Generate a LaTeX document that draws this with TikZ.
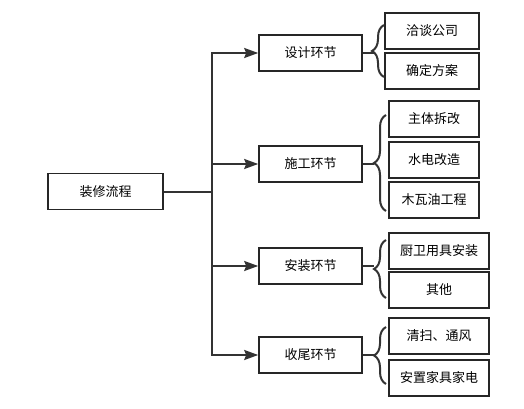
\documentclass[tikz,border=0pt]{standalone}
\usepackage{fontspec}
\setmainfont{Noto Sans CJK SC}
\usetikzlibrary{arrows.meta,decorations.pathreplacing}

\begin{document}
\begin{tikzpicture}[x=1pt,y=-1pt,
  box/.style={draw=black!85,line width=1.6pt,minimum height=36pt,inner sep=0pt,font=\fontsize{13}{15}\selectfont},
  link/.style={draw=black!80,line width=2pt},
  arr/.style={link,-{Stealth[length=14pt,width=10pt,inset=2pt]}},
  curl/.style={link,decorate,decoration={brace,amplitude=12pt}}]
\useasboundingbox (0,0) rectangle (524,409);
% root
\node [box,minimum width=115pt] (flow) at (105.5,191.5) {装修流程};
% stages
\node [box,minimum width=103pt] (design) at (310.5,53) {设计环节};
\node [box,minimum width=103pt] (build) at (310.5,164) {施工环节};
\node [box,minimum width=103pt] (fit) at (310.5,266) {安装环节};
\node [box,minimum width=103pt] (finish) at (310.5,355) {收尾环节};
% leaves
\node [box,minimum width=94pt] (talk) at (432,31) {洽谈公司};
\node [box,minimum width=94pt] (plan) at (432,71) {确定方案};
\node [box,minimum width=90pt] (demo) at (434,119) {主体拆改};
\node [box,minimum width=90pt] (pipe) at (434,160) {水电改造};
\node [box,minimum width=90pt] (wood) at (434,200) {木瓦油工程};
\node [box,minimum width=100pt] (kitchen) at (439,251) {厨卫用具安装};
\node [box,minimum width=100pt] (other) at (439,290) {其他};
\node [box,minimum width=100pt] (clean) at (439,336) {清扫、通风};
\node [box,minimum width=100pt] (furn) at (439,378) {安置家具家电};
% trunk
\draw [link] (flow.east) -- ++(48,0) coordinate (j);
\foreach \s in {design,build,fit,finish}
  \draw [arr] (j) |- (\s.west);
% braces
\draw [link] (design.east) -- ++(11,0);
\draw [curl] (384,77) -- (384,25);
\draw [link] (build.east) -- ++(11,0);
\draw [curl] (386,211) -- (386,115);
\draw [link] (fit.east) -- ++(11,0);
\draw [curl] (386,298) -- (386,240);
\draw [link] (finish.east) -- ++(11,0);
\draw [curl] (386,384) -- (386,327);
\end{tikzpicture}
\end{document}
